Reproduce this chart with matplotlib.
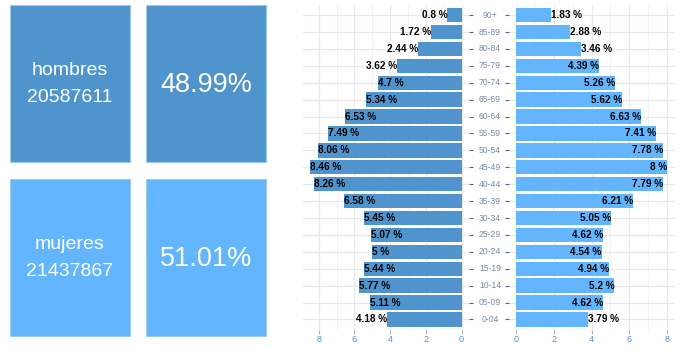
import matplotlib
matplotlib.use('agg')
import matplotlib.pyplot as plt
import matplotlib.transforms as mtransforms
from matplotlib.patches import Rectangle
import numpy as np

plt.rcParams['font.family'] = ['Liberation Sans', 'DejaVu Sans']

# summary boxes
sexes = ['hombres', 'mujeres']
totals = ['20587611', '21437867']
shares = ['48.99%', '51.01%']

# pyramid data (% by age group), top to bottom
ages = ['90+', '85-89', '80-84', '75-79', '70-74', '65-69', '60-64', '55-59', '50-54',
        '45-49', '40-44', '35-39', '30-34', '25-29', '20-24', '15-19', '10-14', '05-09', '0-04']
men = [0.8, 1.72, 2.44, 3.62, 4.7, 5.34, 6.53, 7.49, 8.06,
       8.46, 8.26, 6.58, 5.45, 5.07, 5, 5.44, 5.77, 5.11, 4.18]
women = [1.83, 2.88, 3.46, 4.39, 5.26, 5.62, 6.63, 7.41, 7.78,
         8, 7.79, 6.21, 5.05, 4.62, 4.54, 4.94, 5.2, 4.62, 3.79]
xticks = [0, 2, 4, 6, 8]

dark = '#5094ce'
light = '#63b5fd'
edge = '#9cc8ee'

W, H = 680, 348
fig = plt.figure(figsize=(W / 100, H / 100), dpi=100)

# --- boxes (pixel coords -> figure fraction)
def box(x0, y0, x1, y1, color):
    fig.patches.append(Rectangle((x0 / W, 1 - y1 / H), (x1 - x0) / W, (y1 - y0) / H,
                                 transform=fig.transFigure, facecolor=color,
                                 edgecolor=edge, linewidth=0.8))

rows = [(5, 162), (179, 336)]
for i, (y0, y1) in enumerate(rows):
    c = dark if i == 0 else light
    box(10, y0, 130, y1, c)
    box(146, y0, 266, y1, c)
    yc = (y0 + y1) / 2
    fig.text(70 / W, 1 - (yc - 13) / H, sexes[i], color='white', fontsize=14,
             ha='center', va='center')
    fig.text(70 / W, 1 - (yc + 14) / H, totals[i], color='white', fontsize=14,
             ha='center', va='center')
    fig.text(206 / W, 1 - (yc + 2) / H, shares[i], color='white', fontsize=19.5,
             ha='center', va='center')

# --- pyramid
y = np.arange(len(ages))[::-1]
bottom = 1 - 329.6 / H
height = (329.6 - 5) / H
axL = fig.add_axes([303 / W, bottom, 166 / W, height])
axR = fig.add_axes([508.5 / W, bottom, 166 / W, height])

for ax, vals, col in [(axL, men, dark), (axR, women, light)]:
    ax.barh(y, vals, height=0.85, color=col, zorder=2)
    ax.set_ylim(-0.6, len(ages) - 0.4)
    ax.set_yticks(y)
    ax.set_yticklabels([])
    ax.set_xticks(xticks)
    ax.set_xticks([1, 3, 5, 7], minor=True)
    ax.grid(True, which='major', color='#e8e8e8', linewidth=0.9, zorder=0)
    ax.grid(True, which='minor', axis='x', color='#f2f2f2', linewidth=0.7, zorder=0)
    for s in ax.spines.values():
        s.set_visible(False)
    ax.tick_params(axis='x', which='major', length=3, width=0.8, color='#a8b4c8',
                   labelsize=6.5, labelcolor='#5a8fd0', pad=1)
    ax.tick_params(axis='x', which='minor', length=0)
    ax.tick_params(axis='y', length=3, width=0.8, color='#55657f')
    ax.set_axisbelow(True)

axL.set_xlim(8.88, -0.42)
axR.set_xlim(-0.4, 8.4)
axL.yaxis.tick_right()
axR.yaxis.tick_left()

thr = 4.3
for yi, v in zip(y, men):
    ha = 'left' if v >= thr else 'right'
    axL.text(v, yi, f'{v:g} %', ha=ha, va='center', fontsize=7.2,
             fontweight='bold', color='black', zorder=3)
for yi, v in zip(y, women):
    ha = 'right' if v >= thr else 'left'
    axR.text(v, yi, f'{v:g} %', ha=ha, va='center', fontsize=7.2,
             fontweight='bold', color='black', zorder=3)

tr = mtransforms.blended_transform_factory(fig.transFigure, axL.transData)
for yi, a in zip(y, ages):
    fig.text(490 / W, yi, a, transform=tr, ha='center', va='center',
             fontsize=6.2, color='#7a8aa5')

fig.savefig('out.png', dpi=100)
